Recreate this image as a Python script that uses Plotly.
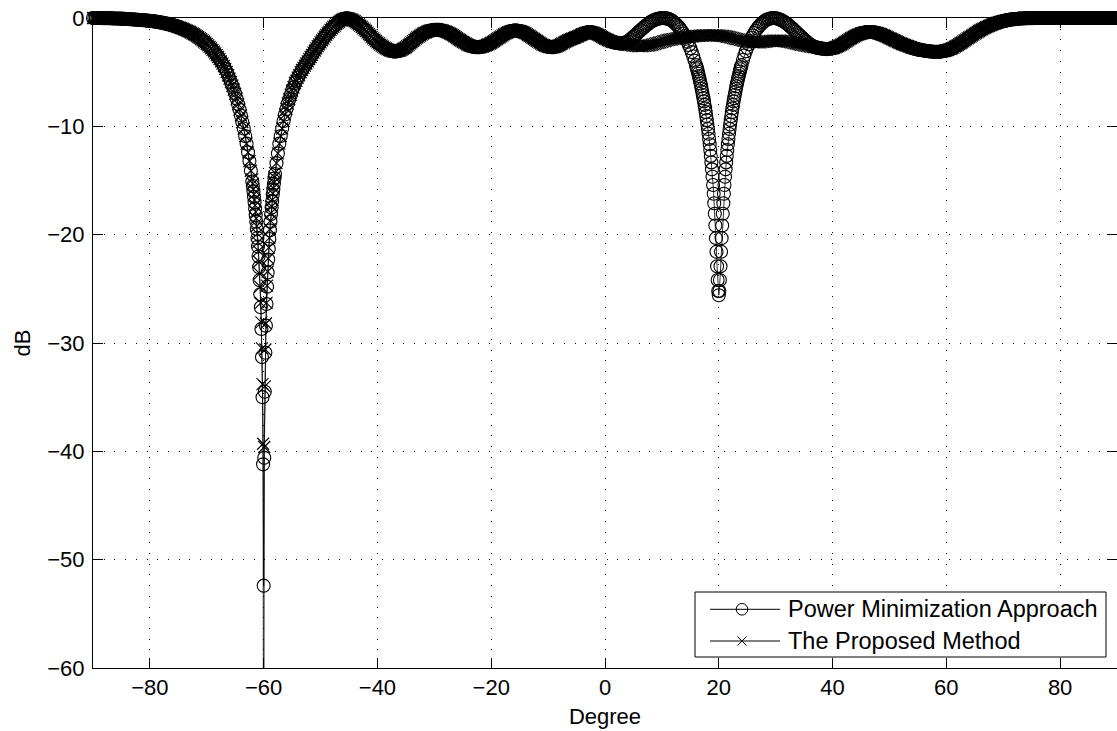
import numpy as np
import plotly.graph_objects as go

# Beam pattern (dB) sampled on angle segments: each segment is (first angle, step, gains)
common_a_start, common_a_step = -90.0, 0.25
common_a_db = [
    0.0, 0.0, 0.0, 0.0, 0.0, 0.0, -0.01, -0.01, -0.01, -0.01,
    -0.02, -0.02, -0.02, -0.03, -0.03, -0.04, -0.04, -0.04, -0.05, -0.06,
    -0.06, -0.07, -0.08, -0.08, -0.09, -0.10, -0.11, -0.12, -0.13, -0.14,
    -0.15, -0.16, -0.17, -0.18, -0.19, -0.20, -0.21, -0.22, -0.24, -0.25,
    -0.26, -0.28, -0.29, -0.31, -0.33, -0.35, -0.37, -0.40, -0.42, -0.45,
    -0.47, -0.50, -0.53, -0.56, -0.60, -0.63, -0.67, -0.71, -0.75, -0.80,
    -0.84, -0.89, -0.94, -0.99, -1.04, -1.10, -1.16, -1.22, -1.28, -1.35,
    -1.43, -1.50, -1.58, -1.67, -1.76, -1.85, -1.95, -2.06, -2.17, -2.28,
    -2.40, -2.53, -2.66, -2.80, -2.95, -3.10, -3.26, -3.43, -3.60, -3.80,
    -4.00, -4.22, -4.45, -4.70, -4.97, -5.27, -5.60, -5.92, -6.25, -6.62,
    -7.00, -7.45, -7.95, -8.45, -9.0, -9.6, -10.2, -10.9, -11.6, -12.4,
    -13.2, -14.1,
]

# Null towards -60 degrees, fine sampling
null60_start, null60_step = -62.0, 0.1
pm_null60_db = [
    -15.1, -15.5, -16.0, -16.5, -17.0, -17.6, -18.2, -18.8, -19.5, -20.3,
    -21.1, -22.0, -23.0, -24.2, -25.5, -26.7, -28.7, -31.3, -35.0, -41.2,
    -52.4,
    -40.6, -34.5, -30.9, -28.4, -26.4, -24.8, -23.5, -22.3, -21.3, -20.4,
    -19.6, -18.8, -18.1, -17.5, -16.9, -16.3, -15.8, -15.3, -14.8, -14.4,
]
prop_null60_db = [
    -14.9, -15.3, -15.8, -16.3, -16.8, -17.3, -17.9, -18.5, -19.2, -19.9,
    -20.7, -21.5, -22.5, -23.6, -24.8, -26.3, -28.1, -30.5, -33.8, -39.3,
    -95.0,
    -39.6, -34.0, -30.6, -28.2, -26.3, -24.7, -23.4, -22.2, -21.2, -20.3,
    -19.5, -18.7, -18.0, -17.4, -16.8, -16.2, -15.7, -15.2, -14.7, -14.3,
]

common_c_start, common_c_step = -57.75, 0.25
common_c_db = [
    -13.4, -12.5, -11.6,
    -10.9, -10.2, -9.5, -8.9,
    -8.4, -7.9, -7.5, -7.1,
    -6.7, -6.4, -6.0, -5.8,
    -5.5, -5.3, -5.0, -4.8,
    -4.6, -4.4, -4.2, -4.0,
    -3.8, -3.6, -3.4, -3.2,
    -3.0, -2.8, -2.6, -2.43,
    -2.25, -2.07, -1.9, -1.72,
    -1.55, -1.4, -1.25, -1.1,
    -0.95, -0.82, -0.7, -0.57,
    -0.45, -0.35, -0.25, -0.17,
    -0.1, -0.05, -0.03, -0.03,
    -0.05, -0.1, -0.16, -0.23,
    -0.3, -0.4, -0.5, -0.6,
    -0.7, -0.82, -0.95, -1.07,
    -1.2, -1.34, -1.48, -1.61,
    -1.75, -1.88, -2.0, -2.13,
    -2.25, -2.35, -2.45, -2.55,
    -2.65, -2.73, -2.81, -2.88,
    -2.95, -3.0, -3.05, -3.08,
    -3.1, -3.09, -3.06, -3.03,
    -3.0, -2.93, -2.85, -2.78,
    -2.7, -2.59, -2.48, -2.36,
    -2.25, -2.14, -2.02, -1.91,
    -1.8, -1.71, -1.62, -1.54,
    -1.45, -1.38, -1.32, -1.26,
    -1.2, -1.17, -1.14, -1.12,
    -1.1, -1.09, -1.09, -1.09,
    -1.1, -1.13, -1.17, -1.21,
    -1.25, -1.31, -1.37, -1.44,
    -1.5, -1.59, -1.68, -1.76,
    -1.85, -1.94, -2.03, -2.11,
    -2.2, -2.28, -2.35, -2.43,
    -2.5, -2.55, -2.6, -2.64,
    -2.67, -2.69, -2.7, -2.7,
    -2.7, -2.67, -2.63, -2.59,
    -2.55, -2.49, -2.43, -2.37,
    -2.3, -2.21, -2.13, -2.04,
    -1.95, -1.86, -1.78, -1.69,
    -1.6, -1.52, -1.45, -1.37,
    -1.3, -1.25, -1.21, -1.18,
    -1.15, -1.14, -1.15, -1.17,
    -1.2, -1.24, -1.29, -1.34,
    -1.4, -1.49, -1.58, -1.66,
    -1.75, -1.84, -1.93, -2.01,
    -2.1, -2.19, -2.28, -2.36,
    -2.45, -2.51, -2.56, -2.61,
    -2.65, -2.68, -2.7, -2.7,
    -2.7, -2.66, -2.61, -2.56,
    -2.5, -2.42, -2.35, -2.27,
    -2.2, -2.13, -2.07, -2.01,
    -1.95, -1.9, -1.85, -1.8,
    -1.75, -1.69, -1.62, -1.56,
    -1.5, -1.45, -1.4, -1.35,
    -1.3, -1.3, -1.31, -1.33,
    -1.35, -1.41, -1.47, -1.53,
    -1.6, -1.68, -1.75, -1.83,
    -1.9, -1.96, -2.03, -2.09,
    -2.15, -2.19, -2.23, -2.26,
    -2.3, -2.32, -2.34, -2.35,
]

# Power minimization: lobe at 10 deg, null at 20 deg, lobe at 30 deg
pm_rise_start, pm_rise_step = 3.0, 0.25
pm_rise_db = [
    -2.35, -2.33, -2.29, -2.23,
    -2.15, -2.06, -1.96, -1.85,
    -1.74, -1.62, -1.5, -1.38,
    -1.25, -1.13, -1.01, -0.89,
    -0.78, -0.67, -0.57, -0.47,
    -0.38, -0.3, -0.23, -0.17,
    -0.11, -0.07, -0.04, -0.02,
    -0.01, 0.0, -0.01, -0.03,
    -0.06, -0.1, -0.16, -0.24,
    -0.34, -0.45, -0.57, -0.71,
    -0.86, -1.03, -1.22, -1.43,
    -1.66, -1.92, -2.2, -2.49,
    -2.8, -3.15, -3.53, -3.95,
]
null20_start, null20_step = 16.0, 0.1
pm_null20_db = [
    -4.35, -4.54, -4.73, -4.94, -5.15, -5.36, -5.58, -5.81, -6.05, -6.30,
    -6.56, -6.83, -7.11, -7.40, -7.70, -8.02, -8.34, -8.69, -9.05, -9.43,
    -9.83, -10.25, -10.69, -11.16, -11.65, -12.18, -12.73, -13.33, -13.97, -14.66,
    -15.41, -16.22, -17.10, -18.07, -19.15, -20.32, -21.57, -22.91, -24.19, -25.20,
    -25.59,
    -25.20, -24.19, -22.91, -21.57, -20.32, -19.15, -18.07, -17.10, -16.22, -15.41,
    -14.66, -13.97, -13.33, -12.73, -12.18, -11.65, -11.16, -10.69, -10.25, -9.83,
    -9.43, -9.05, -8.69, -8.34, -8.02, -7.70, -7.40, -7.11, -6.83, -6.56,
    -6.30, -6.05, -5.81, -5.58, -5.36, -5.15, -4.94, -4.73, -4.54, -4.35,
]
pm_fall_start, pm_fall_step = 24.25, 0.25
pm_fall_db = [
    -3.87, -3.46, -3.08,
    -2.74, -2.42, -2.12, -1.85,
    -1.61, -1.38, -1.17, -0.98,
    -0.81, -0.66, -0.52, -0.4,
    -0.3, -0.21, -0.14, -0.09,
    -0.04, -0.02, 0.0, 0.0,
    -0.02, -0.05, -0.09, -0.14,
    -0.2, -0.27, -0.35, -0.44,
    -0.54, -0.65, -0.76, -0.88,
    -1.0, -1.12, -1.25, -1.38,
    -1.5, -1.62, -1.75, -1.87,
    -2.0, -2.11, -2.22, -2.33,
    -2.43, -2.51, -2.58, -2.64,
    -2.7,
]

# Proposed method keeps the 20 deg direction near the sidelobe level
prop_mid_start, prop_mid_step = 3.0, 0.25
prop_mid_db = [
    -2.35, -2.38, -2.4, -2.43,
    -2.45, -2.48, -2.5, -2.53,
    -2.55, -2.56, -2.58, -2.59,
    -2.6, -2.6, -2.6, -2.59,
    -2.58, -2.56, -2.54, -2.52,
    -2.5, -2.46, -2.43, -2.39,
    -2.35, -2.31, -2.28, -2.24,
    -2.2, -2.16, -2.13, -2.09,
    -2.05, -2.02, -2.0, -1.97,
    -1.95, -1.92, -1.9, -1.87,
    -1.85, -1.83, -1.81, -1.8,
    -1.78, -1.76, -1.75, -1.73,
    -1.72, -1.7, -1.69, -1.67,
    -1.66, -1.65, -1.64, -1.63,
    -1.62, -1.61, -1.61, -1.6,
    -1.6, -1.6, -1.6, -1.6,
    -1.6, -1.6, -1.61, -1.61,
    -1.62, -1.63, -1.65, -1.66,
    -1.68, -1.7, -1.73, -1.75,
    -1.78, -1.81, -1.85, -1.88,
    -1.92, -1.95, -1.98, -2.02,
    -2.05, -2.08, -2.11, -2.14,
    -2.17, -2.19, -2.21, -2.22,
    -2.24, -2.24, -2.25, -2.25,
    -2.25, -2.24, -2.23, -2.21,
    -2.2, -2.18, -2.16, -2.14,
    -2.12, -2.11, -2.1, -2.09,
    -2.08, -2.08, -2.09, -2.09,
    -2.1, -2.12, -2.14, -2.16,
    -2.18, -2.2, -2.23, -2.25,
    -2.28, -2.31, -2.34, -2.37,
    -2.4, -2.43, -2.46, -2.49,
    -2.52, -2.55, -2.57, -2.6,
    -2.62, -2.64, -2.66, -2.68,
    -2.7,
]

common_e_start, common_e_step = 37.25, 0.25
common_e_db = [
    -2.73, -2.76, -2.79,
    -2.82, -2.84, -2.85, -2.86,
    -2.87, -2.86, -2.84, -2.82,
    -2.8, -2.75, -2.7, -2.65,
    -2.6, -2.53, -2.45, -2.38,
    -2.3, -2.21, -2.13, -2.04,
    -1.95, -1.87, -1.8, -1.72,
    -1.65, -1.59, -1.53, -1.48,
    -1.42, -1.39, -1.36, -1.33,
    -1.3, -1.3, -1.29, -1.29,
    -1.3, -1.32, -1.35, -1.37,
    -1.4, -1.45, -1.5, -1.55,
    -1.6, -1.66, -1.72, -1.79,
    -1.85, -1.91, -1.98, -2.04,
    -2.1, -2.16, -2.23, -2.29,
    -2.35, -2.4, -2.45, -2.5,
    -2.55, -2.6, -2.65, -2.7,
    -2.75, -2.79, -2.83, -2.86,
    -2.9, -2.93, -2.95, -2.98,
    -3.0, -3.02, -3.04, -3.06,
    -3.08, -3.09, -3.1, -3.11,
    -3.12, -3.12, -3.12, -3.11,
    -3.1, -3.08, -3.05, -3.03,
    -3.0, -2.95, -2.9, -2.85,
    -2.8, -2.73, -2.65, -2.58,
    -2.5, -2.41, -2.33, -2.24,
    -2.15, -2.06, -1.98, -1.89,
    -1.8, -1.71, -1.63, -1.54,
    -1.45, -1.37, -1.28, -1.2,
    -1.12, -1.05, -0.98, -0.92,
    -0.85, -0.79, -0.73, -0.68,
    -0.62, -0.57, -0.52, -0.48,
    -0.43, -0.39, -0.35, -0.32,
    -0.28, -0.25, -0.22, -0.2,
    -0.17, -0.15, -0.13, -0.12,
    -0.1, -0.09, -0.07, -0.06,
    -0.05, -0.04, -0.03, -0.03,
    -0.02, -0.02, -0.01, -0.01,
    -0.01, -0.01, 0.0, 0.0,
    0.0, 0.0, 0.0, 0.0, 0.0, 0.0, 0.0, 0.0, 0.0, 0.0,
    0.0, 0.0, 0.0, 0.0, 0.0, 0.0, 0.0, 0.0, 0.0, 0.0,
    0.0, 0.0, 0.0, 0.0, 0.0, 0.0, 0.0, 0.0, 0.0, 0.0,
    0.0, 0.0, 0.0, 0.0, 0.0, 0.0, 0.0, 0.0, 0.0, 0.0,
    0.0, 0.0, 0.0, 0.0, 0.0, 0.0, 0.0, 0.0, 0.0, 0.0,
    0.0, 0.0, 0.0, 0.0, 0.0, 0.0, 0.0,
]

x_ticks = [-80, -60, -40, -20, 0, 20, 40, 60, 80]
y_ticks = [0, -10, -20, -30, -40, -50, -60]
series_names = ["Power Minimization Approach", "The Proposed Method"]


def segment(start, step, values):
    angles = start + step * np.arange(len(values))
    return angles, np.asarray(values, dtype=float)


def join(*segments):
    xs = np.concatenate([s[0] for s in segments])
    ys = np.concatenate([s[1] for s in segments])
    return xs, ys


seg_a = segment(common_a_start, common_a_step, common_a_db)
seg_c = segment(common_c_start, common_c_step, common_c_db)
seg_e = segment(common_e_start, common_e_step, common_e_db)

pm_x, pm_y = join(
    seg_a,
    segment(null60_start, null60_step, pm_null60_db),
    seg_c,
    segment(pm_rise_start, pm_rise_step, pm_rise_db),
    segment(null20_start, null20_step, pm_null20_db),
    segment(pm_fall_start, pm_fall_step, pm_fall_db),
    seg_e,
)
prop_x, prop_y = join(
    seg_a,
    segment(null60_start, null60_step, prop_null60_db),
    seg_c,
    segment(prop_mid_start, prop_mid_step, prop_mid_db),
    seg_e,
)

FONT = "Liberation Sans, Arial, Helvetica, sans-serif"
W, H = 1117, 731
L, R, T, B = 93, 1117, 18, 668  # plot-area box in page pixels


def minus(v):
    return str(v).replace("-", "\u2212")


fig = go.Figure()
fig.add_trace(go.Scatter(
    x=pm_x, y=pm_y, mode="lines+markers", name=series_names[0],
    line=dict(color="black", width=0.8),
    marker=dict(symbol="circle-open", size=13, color="black", line=dict(width=1.1, color="black")),
    cliponaxis=False, showlegend=False,
))
fig.add_trace(go.Scatter(
    x=prop_x, y=prop_y, mode="lines+markers", name=series_names[1],
    line=dict(color="black", width=0.8),
    marker=dict(symbol="x-thin-open", size=12, color="black", line=dict(width=1.1, color="black")),
    cliponaxis=False, showlegend=False,
))

axis_common = dict(
    showline=True, linecolor="black", linewidth=1,
    ticks="inside", ticklen=10, tickwidth=1, tickcolor="black",
    showgrid=True, gridcolor="black", gridwidth=1, griddash="1px,9.7px",
    zeroline=False, tickfont=dict(family=FONT, size=22, color="black"),
)
fig.update_xaxes(
    range=[-90, 90], tickvals=x_ticks, ticktext=[minus(v) for v in x_ticks],
    mirror="ticks", title=dict(text="Degree", font=dict(family=FONT, size=22, color="black"), standoff=9),
    **axis_common,
)
fig.update_yaxes(
    range=[-60, 0], tickvals=y_ticks, ticktext=[minus(v) for v in y_ticks],
    mirror="ticks", ticklabelstandoff=3,
    title=dict(text="dB", font=dict(family=FONT, size=22, color="black"), standoff=10),
    **axis_common,
)


def to_paper(px, py):
    return (px - L) / (R - L), (B - py) / (B - T)


# Legend box drawn as shapes and text
shapes = []
annotations = []
bx0, by0 = to_paper(695, 592)
bx1, by1 = to_paper(1106, 657)
shapes.append(dict(type="rect", xref="paper", yref="paper", x0=bx0, y0=by1, x1=bx1, y1=by0,
                   line=dict(color="black", width=1), fillcolor="white", layer="above"))
for i, row_y in enumerate([609.3, 641.0]):
    lx0, ly = to_paper(710, row_y)
    lx1, _ = to_paper(780, row_y)
    shapes.append(dict(type="line", xref="paper", yref="paper", x0=lx0, y0=ly, x1=lx1, y1=ly,
                       line=dict(color="black", width=1)))
    tx, ty = to_paper(786, row_y)
    annotations.append(dict(x=tx, y=ty, xref="paper", yref="paper", text=series_names[i],
                            showarrow=False, xanchor="left", yanchor="middle",
                            font=dict(family=FONT, size=23.5, color="black")))
cx0, cy0 = to_paper(742 - 5.8, 609.3 + 5.8)
cx1, cy1 = to_paper(742 + 5.8, 609.3 - 5.8)
shapes.append(dict(type="circle", xref="paper", yref="paper", x0=cx0, y0=cy0, x1=cx1, y1=cy1,
                   line=dict(color="black", width=1), fillcolor="rgba(0,0,0,0)"))
for dx in (-1, 1):
    ax0, ay0 = to_paper(742 - 4.6, 641 - 4.6 * dx)
    ax1, ay1 = to_paper(742 + 4.6, 641 + 4.6 * dx)
    shapes.append(dict(type="line", xref="paper", yref="paper", x0=ax0, y0=ay0, x1=ax1, y1=ay1,
                       line=dict(color="black", width=1)))

fig.update_layout(
    width=W, height=H,
    margin=dict(l=L, r=W - R, t=T, b=H - B),
    paper_bgcolor="white", plot_bgcolor="white",
    font=dict(family=FONT, color="black"),
    shapes=shapes, annotations=annotations, showlegend=False,
)

fig.write_html("out.html")
